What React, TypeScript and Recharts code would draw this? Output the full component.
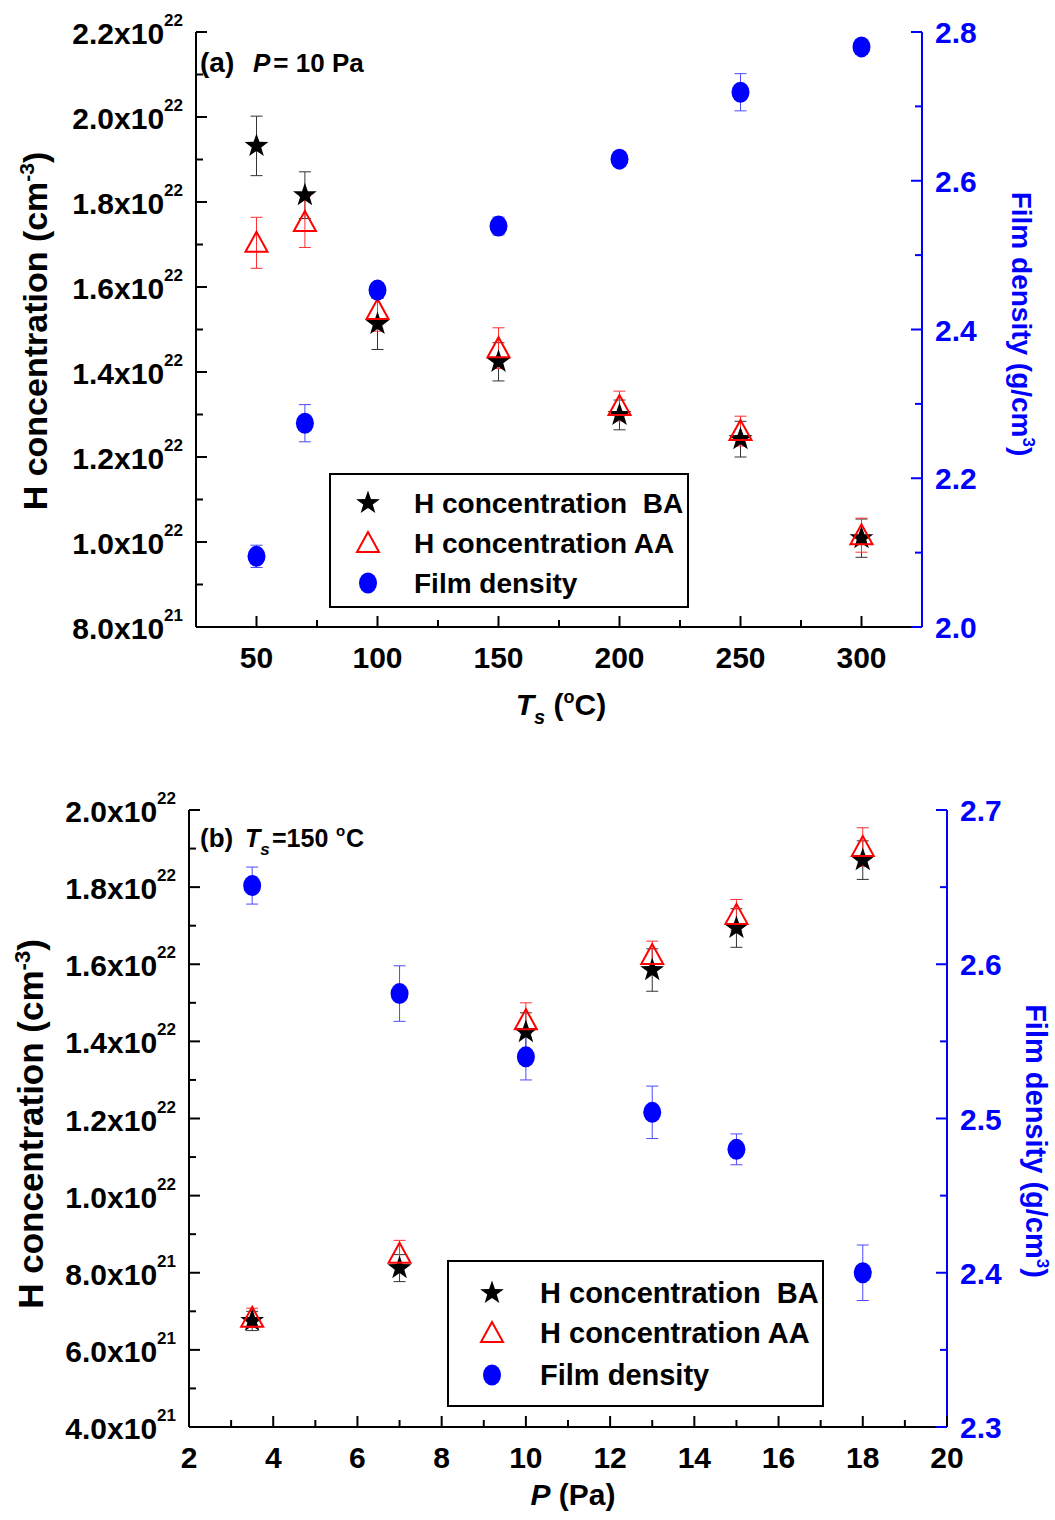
import React from "react";
import { ScatterChart, Scatter, XAxis, YAxis, ErrorBar, Legend } from "recharts";

const FONT = "'Liberation Sans', Arial, sans-serif";
const BLUE = "#0000ff";

// (a) vs substrate temperature, P = 10 Pa
const tempC = [50, 70, 100, 150, 200, 250, 300];
const hBeforeA = [1.932e22, 1.816e22, 1.513e22, 1.424e22, 1.299e22, 1.242e22, 1.009e22];
const hBeforeErrA = [7e20, 5.5e20, 6e20, 4.5e20, 3.5e20, 4.2e20, 4.5e20];
const hAfterA = [1.704e22, 1.753e22, 1.546e22, 1.456e22, 1.32e22, 1.261e22, 1.016e22];
const hAfterErrA = [6e20, 6e20, 5e20, 4.8e20, 3.5e20, 3.5e20, 4e20];
const densityA = [2.095, 2.274, 2.453, 2.539, 2.629, 2.719, 2.78];
const densityErrA = [0.015, 0.025, 0.01, 0.012, 0.01, 0.025, 0.01];

// (b) vs pressure, Ts = 150 C
const pressurePa = [3.5, 7, 10, 13, 15, 18];
const hBeforeB = [6.75e21, 8.12e21, 1.424e22, 1.585e22, 1.694e22, 1.87e22];
const hBeforeErrB = [2.5e20, 3.5e20, 5e20, 5.5e20, 5e20, 5e20];
const hAfterB = [6.83e21, 8.49e21, 1.455e22, 1.624e22, 1.728e22, 1.904e22];
const hAfterErrB = [2.5e20, 3.5e20, 4.5e20, 3.6e20, 4e20, 5e20];
const densityB = [2.651, 2.581, 2.54, 2.504, 2.48, 2.4];
const densityErrB = [0.012, 0.018, 0.015, 0.017, 0.01, 0.018];

// ticks (all) and the labelled ones
const xTicksA = [50, 75, 100, 125, 150, 175, 200, 225, 250, 275, 300];
const xLabelsA = [50, 100, 150, 200, 250, 300];
const hTicksA = [8e21, 9e21, 1e22, 1.1e22, 1.2e22, 1.3e22, 1.4e22, 1.5e22, 1.6e22, 1.7e22, 1.8e22, 1.9e22, 2e22, 2.1e22, 2.2e22];
const hLabelsA = [8e21, 1e22, 1.2e22, 1.4e22, 1.6e22, 1.8e22, 2e22, 2.2e22];
const dTicksA = [2.0, 2.1, 2.2, 2.3, 2.4, 2.5, 2.6, 2.7, 2.8];
const dLabelsA = [2.0, 2.2, 2.4, 2.6, 2.8];

const xTicksB = [2, 3, 4, 5, 6, 7, 8, 9, 10, 11, 12, 13, 14, 15, 16, 17, 18, 19, 20];
const xLabelsB = [2, 4, 6, 8, 10, 12, 14, 16, 18, 20];
const hTicksB = [4e21, 5e21, 6e21, 7e21, 8e21, 9e21, 1e22, 1.1e22, 1.2e22, 1.3e22, 1.4e22, 1.5e22, 1.6e22, 1.7e22, 1.8e22, 1.9e22, 2e22];
const hLabelsB = [4e21, 6e21, 8e21, 1e22, 1.2e22, 1.4e22, 1.6e22, 1.8e22, 2e22];
const dTicksB = [2.3, 2.35, 2.4, 2.45, 2.5, 2.55, 2.6, 2.65, 2.7];
const dLabelsB = [2.3, 2.4, 2.5, 2.6, 2.7];

const legendLabels = ["H concentration\u00a0\u00a0BA", "H concentration AA", "Film density"];

const rows = (xs: number[], ys: number[], errs: number[]) =>
  xs.map((x, i) => ({ x, y: ys[i], err: errs[i] }));

const Star = (p: any) => {
  const { cx, cy } = p;
  const pts: string[] = [];
  for (let k = 0; k < 10; k++) {
    const r = k % 2 === 0 ? 12.5 : 5;
    const a = -Math.PI / 2 + (k * Math.PI) / 5;
    pts.push(`${cx + r * Math.cos(a)},${cy + r * Math.sin(a)}`);
  }
  return <polygon points={pts.join(" ")} fill="#000" />;
};

const Triangle = (p: any) => {
  const { cx, cy } = p;
  return (
    <polygon
      points={`${cx},${cy - 11} ${cx - 11},${cy + 9} ${cx + 11},${cy + 9}`}
      fill="none"
      stroke="#ff0000"
      strokeWidth={2}
    />
  );
};

const Dot = (p: any) => <ellipse cx={p.cx} cy={p.cy} rx={9} ry={10.5} fill={BLUE} />;

const leftTick = (labels: number[]) => (props: any) => {
  const { x, y, payload } = props;
  const v = payload.value;
  const major = labels.includes(v);
  const exp = Math.floor(Math.log10(v) + 1e-9);
  const man = (v / Math.pow(10, exp)).toFixed(1);
  return (
    <g>
      <line x1={x} x2={x + (major ? 11 : 7)} y1={y} y2={y} stroke="#000" strokeWidth={2} />
      {major && (
        <text x={x - 13} y={y + 12} textAnchor="end" fontFamily={FONT} fontWeight="bold" fontSize={30} fill="#000">
          {man}x10<tspan dy={-18} fontSize={17}>{exp}</tspan>
        </text>
      )}
    </g>
  );
};

const rightTick = (labels: number[]) => (props: any) => {
  const { x, y, payload } = props;
  const major = labels.includes(payload.value);
  return (
    <g>
      <line x1={x} x2={x - (major ? 11 : 7)} y1={y} y2={y} stroke={BLUE} strokeWidth={2} />
      {major && (
        <text x={x + 13} y={y + 11} textAnchor="start" fontFamily={FONT} fontWeight="bold" fontSize={30} fill={BLUE}>
          {payload.value.toFixed(1)}
        </text>
      )}
    </g>
  );
};

const bottomTick = (labels: number[]) => (props: any) => {
  const { x, y, payload } = props;
  const major = labels.includes(payload.value);
  return (
    <g>
      <line x1={x} x2={x} y1={y} y2={y - (major ? 11 : 7)} stroke="#000" strokeWidth={2} />
      {major && (
        <text x={x} y={y + 41} textAnchor="middle" fontFamily={FONT} fontWeight="bold" fontSize={30} fill="#000">
          {payload.value}
        </text>
      )}
    </g>
  );
};

const topTick = (labels: number[]) => (props: any) => {
  const { x, y, payload } = props;
  const major = labels.includes(payload.value);
  return <line x1={x} x2={x} y1={y} y2={y + (major ? 11 : 7)} stroke="#000" strokeWidth={2} />;
};

const legendBox = (w: number, h: number, rowY: number[], symX: number, textX: number, fs: number) => () => (
  <svg width={w} height={h} style={{ display: "block" }}>
    <rect x={1} y={1} width={w - 2} height={h - 2} fill="#fff" stroke="#000" strokeWidth={2} />
    <Star cx={symX} cy={rowY[0]} />
    <Triangle cx={symX} cy={rowY[1]} />
    <Dot cx={symX} cy={rowY[2]} />
    {legendLabels.map((t, i) => (
      <text key={i} x={textX} y={rowY[i] + 10} fontFamily={FONT} fontWeight="bold" fontSize={fs} fill="#000">
        {t}
      </text>
    ))}
  </svg>
);

function Panel(props: any) {
  const c = props;
  return (
    <div style={{ position: "relative", width: 1055, height: 760 }}>
      <ScatterChart width={1055} height={760} margin={{ top: c.top, right: 0, bottom: 0, left: 0 }}>
        <XAxis
          dataKey="x"
          type="number"
          domain={c.xDomain}
          ticks={c.xTicks}
          interval={0}
          height={c.xHeight}
          tickLine={false}
          tickSize={0}
          tickMargin={0}
          axisLine={{ stroke: "#000", strokeWidth: 2 }}
          tick={bottomTick(c.xLabels)}
          allowDataOverflow
        />
        <XAxis
          xAxisId="top"
          orientation="top"
          type="number"
          domain={c.xDomain}
          ticks={c.xTicks}
          interval={0}
          height={0}
          tickLine={false}
          tickSize={0}
          tickMargin={0}
          axisLine={{ stroke: "#000", strokeWidth: 2 }}
          tick={topTick(c.xLabels)}
          allowDataOverflow
        />
        <YAxis
          yAxisId="h"
          dataKey="y"
          type="number"
          domain={c.hDomain}
          ticks={c.hTicks}
          interval={0}
          width={c.leftW}
          tickLine={false}
          tickSize={0}
          tickMargin={0}
          axisLine={{ stroke: "#000", strokeWidth: 2 }}
          tick={leftTick(c.hLabels)}
          allowDataOverflow
        />
        <YAxis
          yAxisId="d"
          orientation="right"
          dataKey="y"
          type="number"
          domain={c.dDomain}
          ticks={c.dTicks}
          interval={0}
          width={c.rightW}
          tickLine={false}
          tickSize={0}
          tickMargin={0}
          axisLine={{ stroke: BLUE, strokeWidth: 2 }}
          tick={rightTick(c.dLabels)}
          allowDataOverflow
        />
        <Scatter data={c.before} yAxisId="h" shape={Star} isAnimationActive={false}>
          <ErrorBar dataKey="err" direction="y" width={6} stroke="#333" strokeWidth={1} />
        </Scatter>
        <Scatter data={c.after} yAxisId="h" shape={Triangle} isAnimationActive={false}>
          <ErrorBar dataKey="err" direction="y" width={6} stroke="#ff3030" strokeWidth={1} />
        </Scatter>
        <Scatter data={c.density} yAxisId="d" shape={Dot} isAnimationActive={false}>
          <ErrorBar dataKey="err" direction="y" width={6} stroke="#4a4aff" strokeWidth={1} />
        </Scatter>
        <Legend
          layout="vertical"
          align="center"
          verticalAlign="middle"
          content={c.legend}
          wrapperStyle={c.legendStyle}
        />
      </ScatterChart>
      <svg width={1055} height={760} style={{ position: "absolute", left: 0, top: 0, pointerEvents: "none" }}>
        {c.overlay}
      </svg>
    </div>
  );
}

export default function App() {
  const overlayA = (
    <g fontFamily={FONT} fontWeight="bold">
      <text transform="translate(47,331) rotate(-90)" textAnchor="middle" fontSize={34} fill="#000">
        H concentration (cm<tspan dy={-13} fontSize={21}>-3</tspan>
        <tspan dy={13}>)</tspan>
      </text>
      <text transform="translate(1012,324) rotate(90)" textAnchor="middle" fontSize={28} fill={BLUE}>
        Film density (g/cm<tspan dy={-11} fontSize={17}>3</tspan>
        <tspan dy={11}>)</tspan>
      </text>
      <text x={561} y={715} textAnchor="middle" fontSize={30} fill="#000">
        <tspan fontStyle="italic">T</tspan>
        <tspan fontStyle="italic" fontSize={20} dy={9}>s</tspan>
        <tspan dy={-9}> (</tspan>
        <tspan fontSize={18} dy={-12}>o</tspan>
        <tspan dy={12}>C)</tspan>
      </text>
      <text x={200} y={72} fontSize={28} fill="#000">
        (a)<tspan x={253} fontStyle="italic" fontSize={26}>P</tspan>
        <tspan dx={3} fontSize={26}>= 10 Pa</tspan>
      </text>
    </g>
  );
  const overlayB = (
    <g fontFamily={FONT} fontWeight="bold">
      <text transform="translate(43,364) rotate(-90)" textAnchor="middle" fontSize={35} fill="#000">
        H concentration (cm<tspan dy={-13} fontSize={22}>-3</tspan>
        <tspan dy={13}>)</tspan>
      </text>
      <text transform="translate(1026,381) rotate(90)" textAnchor="middle" fontSize={29} fill={BLUE}>
        Film density (g/cm<tspan dy={-11} fontSize={17}>3</tspan>
        <tspan dy={11}>)</tspan>
      </text>
      <text x={573} y={745} textAnchor="middle" fontSize={30} fill="#000">
        <tspan fontStyle="italic">P</tspan>
        <tspan> (Pa)</tspan>
      </text>
      <text x={200} y={87} fontSize={26} fill="#000">
        (b)<tspan x={245} fontStyle="italic" fontSize={25}>T</tspan>
        <tspan fontStyle="italic" fontSize={17} dy={8}>s</tspan>
        <tspan x={272} dy={-8} fontSize={25}>=150</tspan>
        <tspan x={336} dy={-11} fontSize={15}>o</tspan>
        <tspan x={346} dy={11} fontSize={25}>C</tspan>
      </text>
    </g>
  );

  return (
    <div style={{ position: "absolute", left: 0, top: 0, width: 1055, height: 1520, background: "#fff" }}>
      <Panel
        top={32}
        xHeight={133}
        leftW={196}
        rightW={133}
        xDomain={[25, 325]}
        xTicks={xTicksA}
        xLabels={xLabelsA}
        hDomain={[8e21, 2.2e22]}
        hTicks={hTicksA}
        hLabels={hLabelsA}
        dDomain={[2.0, 2.8]}
        dTicks={dTicksA}
        dLabels={dLabelsA}
        before={rows(tempC, hBeforeA, hBeforeErrA)}
        after={rows(tempC, hAfterA, hAfterErrA)}
        density={rows(tempC, densityA, densityErrA)}
        legend={legendBox(360, 135, [30, 70, 110], 39, 85, 28)}
        legendStyle={{ left: 329, top: 473, width: 360, height: 135 }}
        overlay={overlayA}
      />
      <Panel
        top={50}
        xHeight={93}
        leftW={189}
        rightW={108}
        xDomain={[2, 20]}
        xTicks={xTicksB}
        xLabels={xLabelsB}
        hDomain={[4e21, 2e22]}
        hTicks={hTicksB}
        hLabels={hLabelsB}
        dDomain={[2.3, 2.7]}
        dTicks={dTicksB}
        dLabels={dLabelsB}
        before={rows(pressurePa, hBeforeB, hBeforeErrB)}
        after={rows(pressurePa, hAfterB, hAfterErrB)}
        density={rows(pressurePa, densityB, densityErrB)}
        legend={legendBox(377, 147, [33, 73, 115], 45, 93, 29)}
        legendStyle={{ left: 447, top: 500, width: 377, height: 147 }}
        overlay={overlayB}
      />
    </div>
  );
}
